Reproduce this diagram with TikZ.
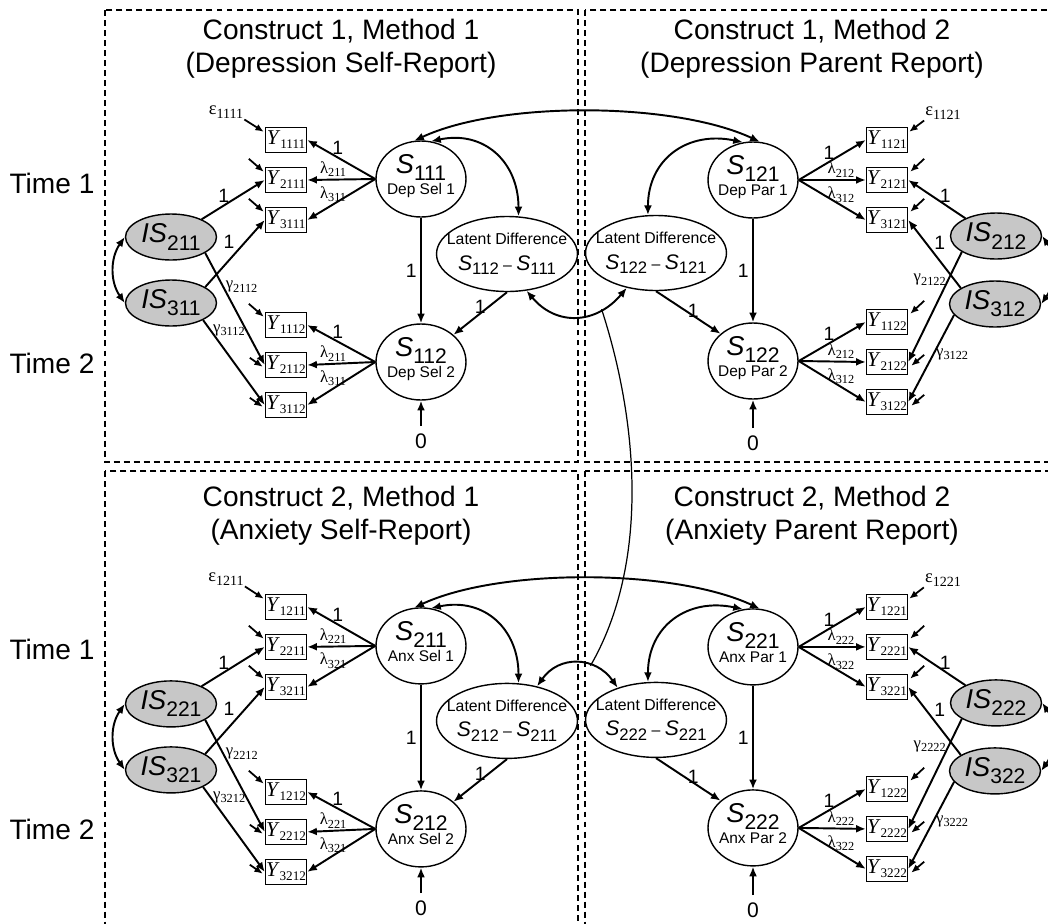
\documentclass[tikz,border=0pt]{standalone}
\usepackage{fontspec}
\setmainfont{Liberation Sans}
\newfontfamily\tnr{Liberation Serif}
\usetikzlibrary{arrows.meta,shapes.geometric}

\newcommand{\Sbig}[1]{{\fontsize{15.5}{16}\selectfont\textit{S}}\raisebox{-4pt}{\fontsize{12}{13}\selectfont #1}}
\newcommand{\ISbig}[1]{{\fontsize{15.5}{16}\selectfont\textit{IS}}\raisebox{-4pt}{\fontsize{12}{13}\selectfont #1}}
\newcommand{\Smid}[1]{{\fontsize{12}{13}\selectfont\textit{S}}\raisebox{-2.8pt}{\fontsize{9.5}{10}\selectfont #1}}
\newcommand{\Yvar}[1]{{\tnr\fontsize{12}{13}\selectfont\textit{Y}\raisebox{-2.2pt}{\fontsize{7.5}{8}\selectfont #1}}}
\newcommand{\grk}[2]{{\tnr\fontsize{9.5}{10}\selectfont #1\raisebox{-2pt}{\fontsize{7}{7.5}\selectfont #2}}}
\newcommand{\errlbl}[1]{{\tnr\fontsize{10.5}{11}\selectfont ε\raisebox{-2.2pt}{\fontsize{8}{8.5}\selectfont #1}}}
\newcommand{\Slbl}[2]{\makebox[0pt]{\Sbig{#1}}\\\makebox[0pt]{#2\rule[-5pt]{0pt}{0pt}}}
\newcommand{\LDlbl}[2]{\makebox[0pt]{Latent Difference}\\\makebox[0pt]{\Smid{#1} -- \Smid{#2}}}

\tikzset{
  arr/.style={-{Latex[length=5.5pt,width=4.5pt]},line width=1.1pt},
  dbl/.style={{Latex[length=5.5pt,width=4.5pt]}-{Latex[length=5.5pt,width=4.5pt]},line width=1.1pt},
  errarr/.style={-{Latex[length=4.8pt,width=4pt]},line width=1pt},
  sell/.style={ellipse,draw,line width=0.8pt,minimum width=1.8cm,minimum height=1.52cm,
    inner sep=0pt,align=center,font=\fontsize{8.8}{12}\selectfont},
  ldell/.style={ellipse,draw,line width=0.8pt,minimum width=2.82cm,minimum height=1.5cm,
    inner sep=0pt,align=center,font=\fontsize{9}{14.5}\selectfont},
  isell/.style={ellipse,draw,fill=black!22,line width=0.8pt,minimum width=1.82cm,
    minimum height=0.92cm,inner sep=0pt},
  ybox/.style={draw,rectangle,line width=0.8pt,minimum width=0.82cm,minimum height=0.5cm,inner sep=0pt},
  lab/.style={font=\fontsize{11}{12}\selectfont,inner sep=1pt},
  glab/.style={inner sep=1pt},
  epslab/.style={inner sep=0.5pt},
  zlab/.style={font=\fontsize{12}{13}\selectfont,inner sep=4pt},
  title/.style={font=\fontsize{16}{18.7}\selectfont,align=center},
  panel/.style={dash pattern=on 3.4pt off 2.3pt,line width=0.7pt},
}

\begin{document}
\begin{tikzpicture}[x=0.02cm,y=0.02cm]
\useasboundingbox (0,0) rectangle (1048,-923);
\clip (0,0) rectangle (1048,-923);
% the four construct/method panels
\draw[panel] (105,-10) rectangle (578,-462);
\draw[panel] (585,-10) rectangle (1070,-462);
\draw[panel] (105,-471) rectangle (578,-940);
\draw[panel] (585,-471) rectangle (1070,-940);
\foreach \con/\dy/\ab/\cname in {1/0/Dep/Depression,2/-9.34/Anx/Anxiety}{
\begin{scope}[yshift=\dy cm]
\node[title] (ttl\con1) at (341,-49) {Construct \con, Method 1\\(\cname\ Self-Report)};
\node[title] (ttl\con2) at (812,-49) {Construct \con, Method 2\\(\cname\ Parent Report)};
\node[title] (tm\con1) at (52,-183) {Time 1};
\node[title] (tm\con2) at (52,-363) {Time 2};
% method 1
\node[isell] (IS2\con1) at (171,-237) {\ISbig{2\con1}};
\node[isell] (IS3\con1) at (171,-303) {\ISbig{3\con1}};
\node[ybox] (Y1\con11) at (286,-140) {\Yvar{1\con11}};
\node[ybox] (Y2\con11) at (286,-180) {\Yvar{2\con11}};
\node[ybox] (Y3\con11) at (286,-220) {\Yvar{3\con11}};
\node[ybox] (Y1\con12) at (286,-325) {\Yvar{1\con12}};
\node[ybox] (Y2\con12) at (286,-365) {\Yvar{2\con12}};
\node[ybox] (Y3\con12) at (286,-405) {\Yvar{3\con12}};
\node[sell] (S\con11) at (421,-179) {\Slbl{\con11}{\ab\ Sel 1}};
\node[sell] (S\con12) at (421,-362) {\Slbl{\con12}{\ab\ Sel 2}};
\node[ldell] (LD\con1) at (507,-254) {\LDlbl{\con12}{\con11}};
\node[zlab] (z\con1) at (421,-441) {0};
\node[epslab] (e1\con11) at (226,-112) {\errlbl{1\con11}};
% method 2
\node[sell] (S\con21) at (753,-180) {\Slbl{\con21}{\ab\ Par 1}};
\node[sell] (S\con22) at (753,-361) {\Slbl{\con22}{\ab\ Par 2}};
\node[ldell] (LD\con2) at (656,-253) {\LDlbl{\con22}{\con21}};
\node[ybox] (Y1\con21) at (887,-140) {\Yvar{1\con21}};
\node[ybox] (Y2\con21) at (887,-180) {\Yvar{2\con21}};
\node[ybox] (Y3\con21) at (887,-220) {\Yvar{3\con21}};
\node[ybox] (Y1\con22) at (887,-322) {\Yvar{1\con22}};
\node[ybox] (Y2\con22) at (887,-362) {\Yvar{2\con22}};
\node[ybox] (Y3\con22) at (887,-402) {\Yvar{3\con22}};
\node[isell] (IS2\con2) at (996,-236) {\ISbig{2\con2}};
\node[isell] (IS3\con2) at (995,-304) {\ISbig{3\con2}};
\node[zlab] (z\con2) at (753,-443) {0};
\node[epslab] (e1\con21) at (943,-113) {\errlbl{1\con21}};
% loadings
\draw[arr] (S\con11.west) -- node[lab,above,pos=0.55] {1} (Y1\con11.east);
\draw[arr] (S\con11.west) -- node[glab,above,pos=0.62] {\grk{λ}{2\con1}} (Y2\con11.east);
\draw[arr] (S\con11.west) -- node[glab,above,pos=0.62] {\grk{λ}{3\con1}} (Y3\con11.east);
\draw[arr] (S\con12.west) -- node[lab,above,pos=0.55] {1} (Y1\con12.east);
\draw[arr] (S\con12.west) -- node[glab,above,pos=0.62] {\grk{λ}{2\con1}} (Y2\con12.east);
\draw[arr] (S\con12.west) -- node[glab,above,pos=0.62] {\grk{λ}{3\con1}} (Y3\con12.east);
\draw[arr] (S\con21.east) -- node[lab,above,pos=0.45] {1} (Y1\con21.west);
\draw[arr] (S\con21.east) -- node[glab,above,pos=0.63] {\grk{λ}{2\con2}} (Y2\con21.west);
\draw[arr] (S\con21.east) -- node[glab,above,pos=0.63] {\grk{λ}{3\con2}} (Y3\con21.west);
\draw[arr] (S\con22.east) -- node[lab,above,pos=0.45] {1} (Y1\con22.west);
\draw[arr] (S\con22.east) -- node[glab,above,pos=0.63] {\grk{λ}{2\con2}} (Y2\con22.west);
\draw[arr] (S\con22.east) -- node[glab,above,pos=0.63] {\grk{λ}{3\con2}} (Y3\con22.west);
% method factors
\draw[arr] (IS2\con1.30) -- node[lab,above,pos=0.35] {1} (Y2\con11.west);
\draw[arr] (IS3\con1.25) -- node[lab,above=5pt,pos=0.4] {1} (Y3\con11.west);
\draw[arr] (IS2\con1.-25) -- node[glab,right,pos=0.3] {\grk{γ}{2\con12}} (Y2\con12.west);
\draw[arr] (IS3\con1.-28) -- node[glab,right,pos=0.12] {\grk{γ}{3\con12}} (Y3\con12.west);
\draw[dbl] (IS2\con1.west) to[out=235,in=125] (IS3\con1.west);
\draw[arr] (IS2\con2.150) -- node[lab,above,pos=0.35] {1} (Y2\con21.east);
\draw[arr] (IS3\con2.155) -- node[lab,above=5pt,pos=0.4] {1} (Y3\con21.east);
\draw[arr] (IS2\con2.205) -- node[glab,left,pos=0.25] {\grk{γ}{2\con22}} (Y2\con22.east);
\draw[arr] (IS3\con2.195) -- node[glab,right,pos=0.45] {\grk{γ}{3\con22}} (Y3\con22.east);
\draw[dbl] (IS2\con2.east) to[out=-55,in=55] (IS3\con2.east);
% time 1 -> time 2
\draw[arr] (S\con11.south) -- node[lab,left=1pt] {1} (S\con12.north);
\draw[arr] (LD\con1.south) -- node[lab,left,pos=0.35] {1} (S\con12.40);
\draw[arr] (z\con1) -- (S\con12.south);
\draw[arr] (S\con21.south) -- node[lab,left=1pt] {1} (S\con22.north);
\draw[arr] (LD\con2.south) -- node[lab,right,pos=0.45] {1} (S\con22.140);
\draw[arr] (z\con2) -- (S\con22.south);
% residuals
\draw[errarr] (e1\con11.south east) -- ([shift={(-1,-5)}]Y1\con11.north west);
\foreach \b in {2\con11,3\con11,1\con12}
  \draw[errarr] ([shift={(-16,8)}]Y\b.north west) -- ([shift={(-1,-5)}]Y\b.north west);
\foreach \b in {2\con12,3\con12}
  \draw[errarr] ([shift={(-15,-6)}]Y\b.north west) -- ([shift={(-2,-15)}]Y\b.north west);
\draw[errarr] (e1\con21.south west) -- ([shift={(1,-5)}]Y1\con21.north east);
\foreach \b in {2\con21,3\con21,1\con22}
  \draw[errarr] ([shift={(16,8)}]Y\b.north east) -- ([shift={(2,-5)}]Y\b.north east);
\foreach \b in {2\con22,3\con22}
  \draw[errarr] ([shift={(16,-6)}]Y\b.north east) -- ([shift={(3,-17)}]Y\b.north east);
% covariances
\draw[dbl] (S\con11.100) to[out=25,in=155,looseness=0.7] (S\con21.80);
\draw[dbl] (S\con11.75) to[out=12,in=90,looseness=1.2] (LD\con1.73);
\draw[dbl] (S\con21.105) to[out=168,in=90,looseness=1.2] (LD\con2.102);
\end{scope}
}
% latent difference covariances and their link
\draw[dbl] (LD11.-62) to[out=-50,in=-130,looseness=1.2] node[coordinate,pos=0.74] (arcA) {} (LD12.-130);
\draw[dbl] (LD21.49) to[out=55,in=125,looseness=1.22] node[coordinate,pos=0.65] (arcB) {} (LD22.140);
\draw[line width=0.7pt] (arcA) to[out=-72,in=60,looseness=0.85] (arcB);
\end{tikzpicture}
\end{document}
